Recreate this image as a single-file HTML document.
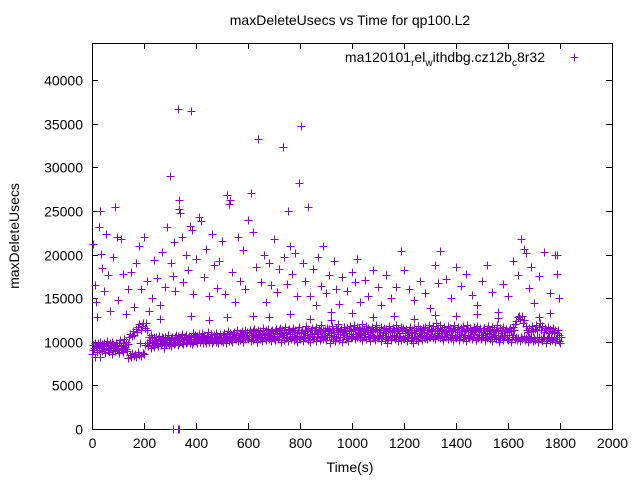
<!DOCTYPE html>
<html><head><meta charset="utf-8"><style>
html,body{margin:0;padding:0;background:#fff;}
svg{display:block;font-family:"Liberation Sans",sans-serif;}
</style></head><body>
<svg id="chart" width="640" height="480" xmlns="http://www.w3.org/2000/svg">
<rect width="640" height="480" fill="#fff"/>
<text x="350" y="25" text-anchor="middle" font-size="14">maxDeleteUsecs vs Time for qp100.L2</text>
<text transform="translate(19,236) rotate(-90)" text-anchor="middle" font-size="14">maxDeleteUsecs</text>
<text x="350" y="472" text-anchor="middle" font-size="14">Time(s)</text>
<g id="axes"></g>
<g id="points"></g>
<g>
<text x="545" y="62" text-anchor="end" font-size="14">ma120101<tspan font-size="10" dy="4">r</tspan><tspan dy="-4">el</tspan><tspan font-size="10" dy="4">w</tspan><tspan dy="-4">ithdbg.cz12b</tspan><tspan font-size="10" dy="4">c</tspan><tspan dy="-4">8r32</tspan></text>
<path d="M570.5 57.5h8M574.5 53.5v8" stroke="#9400d3" stroke-width="1"/>
</g>
</svg>
<script>
const xTicks=[0,200,400,600,800,1000,1200,1400,1600,1800,2000];
const yTicks=[0,5000,10000,15000,20000,25000,30000,35000,40000];
const bandStep=5;
const bandA=[8600,9100,8300,9400,8800,9000,8200,9300,8900,9200,8700,9500,9000,8800,9300,8600,9100,9400,8900,9200,
9000,8700,9300,9100,8800,9400,9200,8900,8100,8500,8300,8700,8400,8600,8200,8800,8500,9800,8400,8700,
8600,9600,9900,9500,9800,9300,10000,9600,9400,9900,9700,9500,10100,9600,9800,9300,9900,9700,10000,9600,
9800,9500,10000,9700,9900,10200,9600,9800,10100,9900,9700,10300,9800,10000,10200,9900,10100,9700,10000,10300,
10100,9800,10300,10000,10200,9900,10400,10100,9800,10200,10000,10300,9900,10100,10400,10000,10200,9800,10300,10100,
10200,10000,10400,9900,10300,10100,10500,10200,10000,10400,10600,10300,10100,10500,10200,10400,10000,10600,10300,10500,
10300,10600,10100,10500,10200,10700,10400,10000,10600,10300,10500,10100,10800,10400,10200,10600,10300,10700,10100,10500,
10400,10200,10700,10300,10600,10000,10500,10800,10200,10400,10600,10100,10500,10300,10700,10200,10600,10400,10000,10500,
10300,10700,10100,10600,10400,10800,10200,10500,10000,10700,10300,10600,10100,10500,10900,10200,10400,10700,10300,10600,
10200,10500,10800,9800,10600,10300,10700,10100,10400,10900,10200,10600,10000,10500,10800,10300,10600,10100,10700,10400,
10600,10900,10300,10700,10500,11000,10400,10800,10200,10600,10900,10300,10700,10500,10100,10800,10400,10600,10200,10700,
10400,10700,10100,10500,10800,10300,10600,9900,10400,10700,10200,10500,10800,10300,10600,10100,10500,10700,10200,10400,
10300,10600,10100,10500,10800,10200,10400,9900,10600,10300,10700,10100,10500,10800,10200,10600,10400,10700,10300,10500,
10600,10900,10400,10700,10300,10800,10500,11000,10400,10600,10200,10700,10500,10900,10300,10600,10400,10800,10200,10500,
10400,10700,10200,10600,10900,10300,10500,10800,10100,10600,10400,10700,10300,10500,10900,10200,10600,10400,10800,10300,
10500,10800,10200,10600,10400,10900,10300,10700,10100,10500,10800,10300,10600,10000,10400,10700,10200,10500,10800,10300,
10200,10600,10000,10500,10800,10300,10600,10200,10400,10100,10500,10300,10700,10200,10400,10000,10600,10300,10500,10100,
10400,10200,10600,10000,10500,10300,10100,10600,10400,9900,10300,10500,10100,10400,10200,10600,10000,10300,10500,10100,
9900];
const bandB=[9600,9300,9900,9500,9800,9400,10000,9700,9300,9900,9600,10100,9500,9800,9400,10000,9700,9300,9900,9600,
9800,10200,9500,9900,10300,9600,10000,9700,10500,10900,10700,11200,10800,11500,11100,11700,12000,11400,11800,12200,
11600,12100,11300,10500,10200,10800,10400,10600,10100,10500,10300,10700,10200,10600,10400,10000,10500,10300,10800,10200,
10400,10600,10200,10500,10800,10300,10700,10400,10600,10900,10200,10500,10800,10400,10700,10300,10600,11000,10500,10800,
10700,10400,10900,10600,11000,10500,10800,10300,10700,11100,10600,10900,10400,10800,10500,11000,10700,10400,10900,10600,
10800,11000,10600,10900,11200,10700,11000,10500,10900,11100,10800,11300,10600,11000,10800,11200,10900,11400,10700,11100,
11000,11300,10800,11200,11500,10900,11100,11400,10800,11200,11000,11600,10900,11300,11100,11500,10800,11200,11400,11000,
11200,11500,10900,11300,11600,11000,11400,11100,11700,11000,11300,11500,10900,11200,11600,11100,11400,11000,11300,11700,
11100,11400,11000,11300,11800,11200,11500,10900,11400,11600,11000,11300,11700,11100,11500,11200,11900,11300,11000,11400,
11600,11200,11500,11000,11800,11300,11100,11600,11400,12000,11200,11500,11100,11700,11300,11000,11600,11400,11800,11200,
11500,11900,11300,11700,11100,11600,11400,12000,11200,11500,11800,11300,11600,11100,11400,11700,11200,11500,11900,11300,
11400,11100,11700,11300,11600,11000,11500,11200,11800,11300,11100,11600,11400,11900,11200,11500,11000,11700,11300,11600,
11200,11500,11000,11400,11700,11100,11300,11600,11000,11400,11800,11200,11500,11000,11600,11300,11700,11100,11400,11900,
11500,11200,11800,11400,12100,11300,11600,11900,11200,11500,11700,11100,11400,11800,11300,11600,11200,11500,11900,11300,
11400,11700,11100,11600,11300,11800,11200,11500,11900,11300,11600,11100,11400,11700,11200,11500,11800,11300,11600,11100,
11300,11600,11000,11500,11800,11200,11400,11700,11100,11500,11300,11900,11200,11600,11000,11400,11700,11200,11500,11100,
11300,11600,11200,11700,11400,12000,12400,12800,13000,12600,12900,12200,12500,11800,11400,11100,11600,11300,11800,11200,
11500,11900,11300,11700,12100,11400,11800,11100,11600,11300,11700,11000,11500,11200,11600,11100,11400,11000,11300,10800,
10600];
const outlierTimes=[5,10,15,20,25,30,35,40,45,55,60,70,80,90,95,100,110,120,130,140,150,160,170,180,190,200,210,220,230,240,250,260,270,280,290,300,305,310,315,320,330,333,336,340,345,350,360,370,375,380,385,390,400,410,420,430,440,450,460,470,480,490,500,510,520,525,530,540,550,560,570,580,590,600,610,620,630,640,650,660,670,680,690,700,710,720,735,740,750,755,760,770,780,790,795,805,810,820,830,840,850,860,870,880,890,900,910,920,930,940,950,960,980,1000,1010,1020,1030,1050,1060,1080,1100,1110,1130,1150,1170,1190,1200,1220,1240,1260,1280,1300,1320,1330,1340,1360,1380,1400,1420,1440,1460,1480,1500,1520,1540,1560,1580,1600,1620,1640,1650,1660,1670,1680,1690,1700,1720,1740,1760,1780,1790,1795,1790,
620,680,760,840,920,1000,1080,1160,1240,1320,1400,1480,1560,1720,1760,450,520,380,260,
310,330,335];
const outlierValues=[21200,16500,14500,12800,23200,25000,20100,18500,15800,22300,17600,13500,19700,25400,22000,14800,21800,17800,13200,16100,18000,14000,19000,21000,16000,22000,17000,13500,15000,19400,17300,14200,20300,16300,23200,29000,19000,17500,21400,15800,36700,25200,26200,24700,22000,16800,20000,18200,23300,36400,22800,15500,19500,24300,23800,17400,20600,15200,22300,18800,16200,19300,21500,15500,26800,25800,26200,18000,14500,22000,17000,20500,16000,24000,27000,22600,18600,33200,16800,20000,14500,19000,16500,21800,15700,18300,32300,19700,16600,25000,21000,17800,20200,15300,28200,34700,19000,17000,25500,15200,18300,14200,19700,16400,21000,15600,17700,13400,19200,16000,14300,17400,15800,18000,16900,19500,14600,17100,15300,18200,16300,14200,17600,15000,16300,20400,18200,16000,14800,17000,15600,13900,18800,16700,20400,17200,15000,18600,16400,17800,15400,14200,17000,18800,15700,13400,16600,15200,19200,17700,21800,20600,20200,16200,18600,14400,17500,20300,15600,20000,17800,15000,20000,
13000,12800,13200,12600,12500,13300,12800,13000,12600,13100,12900,13200,12700,12800,13300,12500,12800,12900,12600,
0,0,0];

const L=92,R=612,T=43,B=429;
const xMax=2000,yMax=44250;
const xs=t=>L+(t/xMax)*(R-L);
const ys=v=>B-(v/40000)*(B-80);
const NS="http://www.w3.org/2000/svg";
const axes=document.getElementById('axes');
function mk(tag,attrs,parent){const e=document.createElementNS(NS,tag);for(const k in attrs)e.setAttribute(k,attrs[k]);parent.appendChild(e);return e;}
const frame=mk('rect',{x:L+0.5,y:T+0.5,width:R-L,height:B-T,fill:'none',stroke:'#000','stroke-width':1},axes);


xTicks.forEach(t=>{
  const x=Math.round(xs(t))+0.5;
  const tk=mk('path',{d:`M${x} ${B}v-6M${x} ${T}v6`,stroke:'#000','stroke-width':1},axes);
  
  
  const lb=mk('text',{x:x,y:B+19,'text-anchor':'middle','font-size':14},axes);
  lb.textContent=t;
  
  
});
yTicks.forEach(v=>{
  const y=Math.round(ys(v))+0.5;
  const tk=mk('path',{d:`M${L} ${y}h6M${R} ${y}h-6`,stroke:'#000','stroke-width':1},axes);
  
  
  const lb=mk('text',{x:L-9,y:y+5,'text-anchor':'end','font-size':14},axes);
  lb.textContent=v;
  
  
});
const pts=document.getElementById('points');
let d='';
function plus(t,v){const x=Math.round(xs(t))+0.5,y=Math.round(ys(v))+0.5;d+=`M${x-4} ${y}h8M${x} ${y-4}v8`;}
bandA.forEach((v,i)=>plus(i*bandStep,v));
bandB.forEach((v,i)=>plus(i*bandStep+2.5,v));
outlierValues.forEach((v,i)=>plus(outlierTimes[i],v));
const p=mk('path',{d:d,stroke:'#9400d3','stroke-width':1,fill:'none'},pts);


</script>
</body></html>
